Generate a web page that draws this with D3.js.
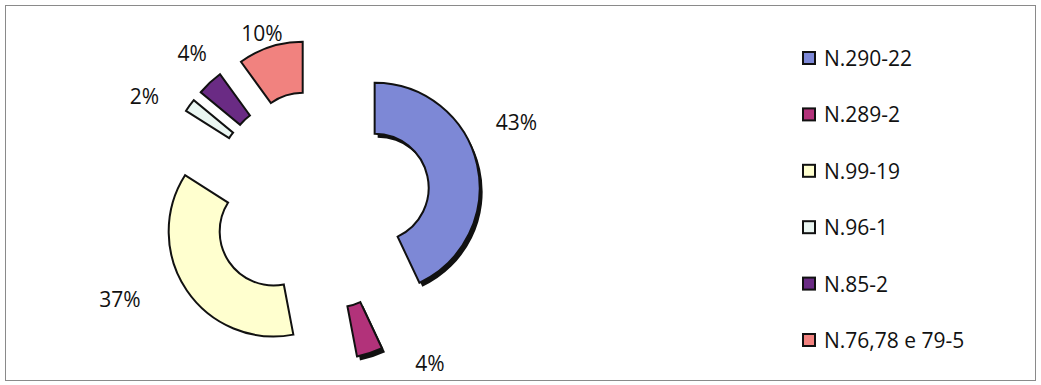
<!DOCTYPE html>
<html>
<head>
<meta charset="utf-8">
<script src="https://cdn.jsdelivr.net/npm/d3@7"></script>
<style>
  html, body { margin: 0; padding: 0; background: #fff; }
  text { font-family: "Open Sans", "Noto Sans", sans-serif; fill: #111; }
</style>
</head>
<body>
<div id="diagram"></div>
<script>
// data
const categories = ['N.290-22', 'N.289-2', 'N.99-19', 'N.96-1', 'N.85-2', 'N.76,78 e 79-5'];
const values = [43, 4, 37, 2, 4, 10];
const percentLabels = ['43%', '4%', '37%', '2%', '4%', '10%'];

// styles / layout
const colors = ['#7d88d6', '#b2327a', '#ffffcf', '#eaf6f2', '#6a2b84', '#f1827f'];
const shadowed = [true, true, false, false, false, false];
const labelNudge = [[10, -36], [51, -19], [-42, -8], [-21, 8], [3, -8], [1, 15]];

const W = 1041, H = 385;
const cx = 320, cy = 200;
const outerR = 105, innerR = 54, explode = 56;

const svg = d3.select('#diagram').append('svg')
  .attr('width', W)
  .attr('height', H);

// frame
svg.append('rect')
  .attr('x', 5.5).attr('y', 5.5)
  .attr('width', W - 11).attr('height', H - 10)
  .attr('fill', 'none')
  .attr('stroke', '#8a8a8a')
  .attr('stroke-width', 1);

const pie = d3.pie().sort(null).value(d => d);
const arcs = pie(values);
const arc = d3.arc().innerRadius(innerR).outerRadius(outerR);

function offset(d, dist) {
  const a = (d.startAngle + d.endAngle) / 2;
  return [Math.sin(a) * dist, -Math.cos(a) * dist];
}

const g = svg.append('g').attr('transform', `translate(${cx},${cy})`);

// shadows first
g.selectAll('path.shadow')
  .data(arcs.filter((d, i) => shadowed[i]))
  .join('path')
  .attr('class', 'shadow')
  .attr('d', arc)
  .attr('fill', '#111')
  .attr('transform', d => {
    const o = offset(d, explode);
    return `translate(${o[0] + 3},${o[1] + 4})`;
  });

g.selectAll('path.slice')
  .data(arcs)
  .join('path')
  .attr('class', 'slice')
  .attr('d', arc)
  .attr('fill', (d, i) => colors[i])
  .attr('stroke', '#111')
  .attr('stroke-width', 2)
  .attr('stroke-linejoin', 'miter')
  .attr('transform', d => {
    const o = offset(d, explode);
    return `translate(${o[0]},${o[1]})`;
  });

// percent labels
g.selectAll('text.pct')
  .data(arcs)
  .join('text')
  .attr('class', 'pct')
  .attr('text-anchor', 'middle')
  .attr('dominant-baseline', 'central')
  .attr('font-size', 21)
  .attr('x', (d, i) => offset(d, explode + outerR + 30)[0] + labelNudge[i][0])
  .attr('y', (d, i) => offset(d, explode + outerR + 30)[1] + labelNudge[i][1])
  .text((d, i) => percentLabels[i]);

// legend
const legendY = d3.scalePoint()
  .domain(categories)
  .range([58, 340]);

const legend = svg.append('g')
  .selectAll('g')
  .data(categories)
  .join('g')
  .attr('transform', d => `translate(803,${legendY(d)})`);

legend.append('rect')
  .attr('x', 0).attr('y', -6)
  .attr('width', 12).attr('height', 12)
  .attr('fill', (d, i) => colors[i])
  .attr('stroke', '#111')
  .attr('stroke-width', 2);

legend.append('text')
  .attr('x', 21)
  .attr('y', 0)
  .attr('dominant-baseline', 'central')
  .attr('font-size', 21)
  .text(d => d);
</script>
</body>
</html>
